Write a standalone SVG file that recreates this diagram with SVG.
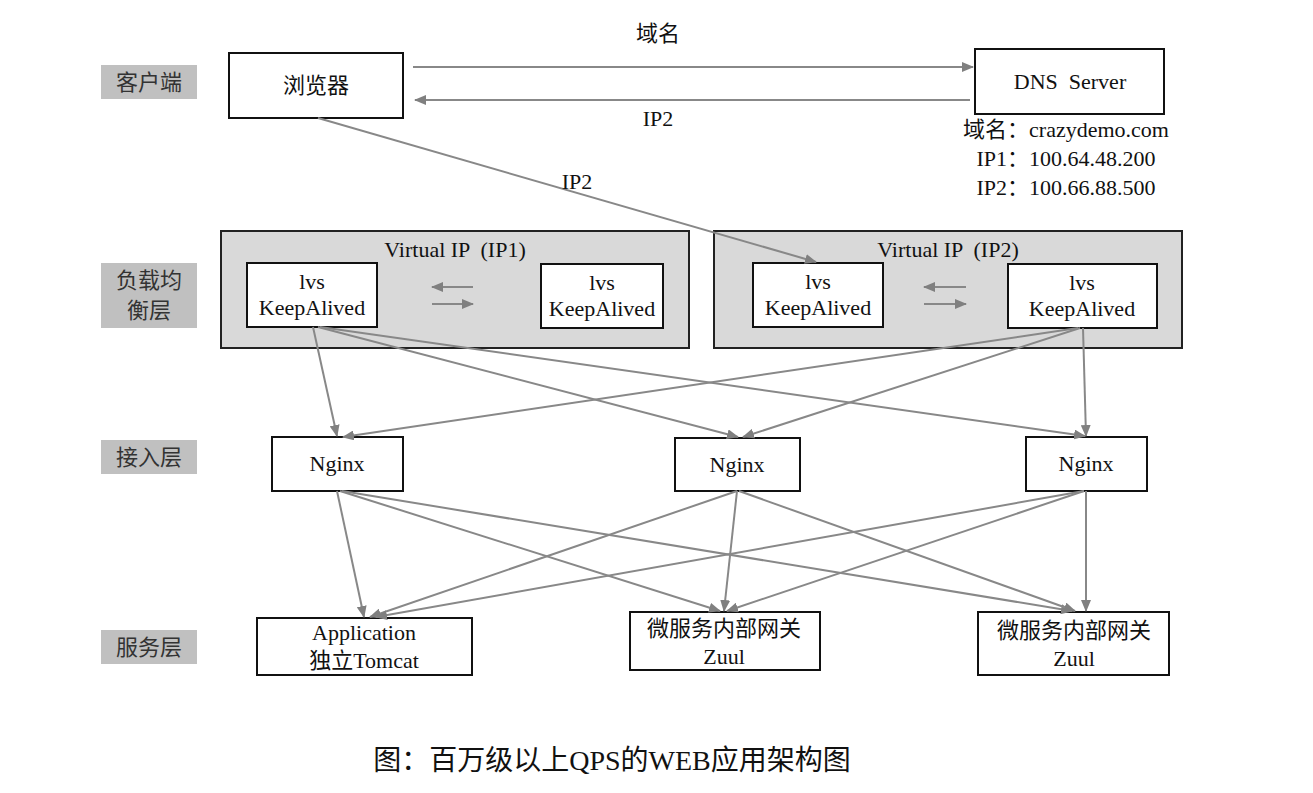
<svg xmlns="http://www.w3.org/2000/svg" width="1313" height="793" viewBox="0 0 1313 793">
<style>
text{font-family:"Liberation Serif","Noto Sans CJK SC",serif;fill:#111;text-anchor:middle}
.lbl rect{fill:#c0c0c0}
.lbl text{font-size:22px;fill:#333}
.box{fill:#fff;stroke:#111;stroke-width:2}
.grp{fill:#d9d9d9;stroke:#222;stroke-width:2}
.t{font-size:22px}
.c line{stroke:#888;stroke-width:2;marker-end:url(#ah)}
</style>
<defs>
<marker id="ah" markerWidth="12" markerHeight="10" refX="11" refY="5" orient="auto" markerUnits="userSpaceOnUse">
<path d="M0,0 L12,5 L0,10 Z" fill="#808080"/>
</marker>
</defs>
<rect width="1313" height="793" fill="#fff"/>

<g id="layer-client" class="lbl"><rect x="101" y="65" width="96" height="34"/><text x="149" y="90">客户端</text></g>
<g id="layer-lb" class="lbl"><rect x="101" y="263" width="96" height="65"/><text x="149" y="288">负载均</text><text x="149" y="318">衡层</text></g>
<g id="layer-access" class="lbl"><rect x="101" y="440" width="96" height="34"/><text x="149" y="465">接入层</text></g>
<g id="layer-service" class="lbl"><rect x="101" y="630" width="96" height="34"/><text x="149" y="655">服务层</text></g>

<g id="browser"><rect class="box" x="229" y="53" width="174" height="65"/><text class="t" x="316" y="93">浏览器</text></g>
<g id="dns"><rect class="box" x="975" y="49" width="189" height="65"/><text class="t" x="1070" y="89" xml:space="preserve">DNS  Server</text>
<text class="t" x="1066" y="137">域名：crazydemo.com</text>
<text class="t" x="1066" y="166">IP1：100.64.48.200</text>
<text class="t" x="1066" y="195">IP2：100.66.88.500</text></g>

<g id="vip1"><rect class="grp" x="221" y="231" width="468" height="117"/><text class="t" x="455" y="257" xml:space="preserve">Virtual IP  (IP1)</text></g>
<g id="vip2"><rect class="grp" x="714" y="231" width="468" height="117"/><text class="t" x="948" y="257" xml:space="preserve">Virtual IP  (IP2)</text></g>

<g id="lvs1a"><rect class="box" x="247" y="263" width="130" height="64"/><text class="t" x="312" y="289">lvs</text><text class="t" x="312" y="315">KeepAlived</text></g>
<g id="lvs1b"><rect class="box" x="541" y="264" width="122" height="64"/><text class="t" x="602" y="290">lvs</text><text class="t" x="602" y="316">KeepAlived</text></g>
<g id="lvs2a"><rect class="box" x="753" y="263" width="130" height="64"/><text class="t" x="818" y="289">lvs</text><text class="t" x="818" y="315">KeepAlived</text></g>
<g id="lvs2b"><rect class="box" x="1008" y="264" width="149" height="64"/><text class="t" x="1082" y="290">lvs</text><text class="t" x="1082" y="316">KeepAlived</text></g>

<g id="nginx1"><rect class="box" x="272" y="437" width="131" height="54"/><text class="t" x="337" y="471">Nginx</text></g>
<g id="nginx2"><rect class="box" x="675" y="438" width="125" height="53"/><text class="t" x="737" y="472">Nginx</text></g>
<g id="nginx3"><rect class="box" x="1026" y="437" width="121" height="54"/><text class="t" x="1086" y="471">Nginx</text></g>

<g id="app"><rect class="box" x="257" y="618" width="215" height="57"/><text class="t" x="364" y="640">Application</text><text class="t" x="364" y="668">独立Tomcat</text></g>
<g id="zuul1"><rect class="box" x="630" y="612" width="190" height="58"/><text class="t" x="724" y="636">微服务内部网关</text><text class="t" x="724" y="664">Zuul</text></g>
<g id="zuul2"><rect class="box" x="978" y="612" width="191" height="63"/><text class="t" x="1074" y="638">微服务内部网关</text><text class="t" x="1074" y="666">Zuul</text></g>

<g id="connectors" class="c">
<line x1="413" y1="67" x2="973" y2="67"/>
<line x1="970" y1="100" x2="415" y2="100"/>
<line x1="318" y1="118" x2="816" y2="262"/>
<line x1="473" y1="287" x2="432" y2="287"/>
<line x1="432" y1="304" x2="473" y2="304"/>
<line x1="966" y1="287" x2="924" y2="287"/>
<line x1="924" y1="304" x2="966" y2="304"/>
<line x1="313" y1="327" x2="337" y2="436"/>
<line x1="318" y1="327" x2="738" y2="437"/>
<line x1="320" y1="327" x2="1085" y2="436"/>
<line x1="1083" y1="328" x2="1086" y2="436"/>
<line x1="1080" y1="328" x2="743" y2="437"/>
<line x1="1078" y1="328" x2="343" y2="437"/>
<line x1="337" y1="491" x2="364" y2="617"/>
<line x1="340" y1="491" x2="720" y2="611"/>
<line x1="342" y1="491" x2="1072" y2="611"/>
<line x1="737" y1="491" x2="370" y2="617"/>
<line x1="737" y1="491" x2="724" y2="611"/>
<line x1="739" y1="491" x2="1075" y2="611"/>
<line x1="1084" y1="491" x2="376" y2="617"/>
<line x1="1084" y1="491" x2="727" y2="611"/>
<line x1="1086" y1="491" x2="1086" y2="611"/>
</g>
<g id="edge-labels">
<text class="t" x="658" y="41">域名</text>
<text class="t" x="658" y="126">IP2</text>
<text class="t" x="577" y="189">IP2</text>
</g>
<text x="612" y="770" style="font-size:28px">图：百万级以上QPS的WEB应用架构图</text>
</svg>
